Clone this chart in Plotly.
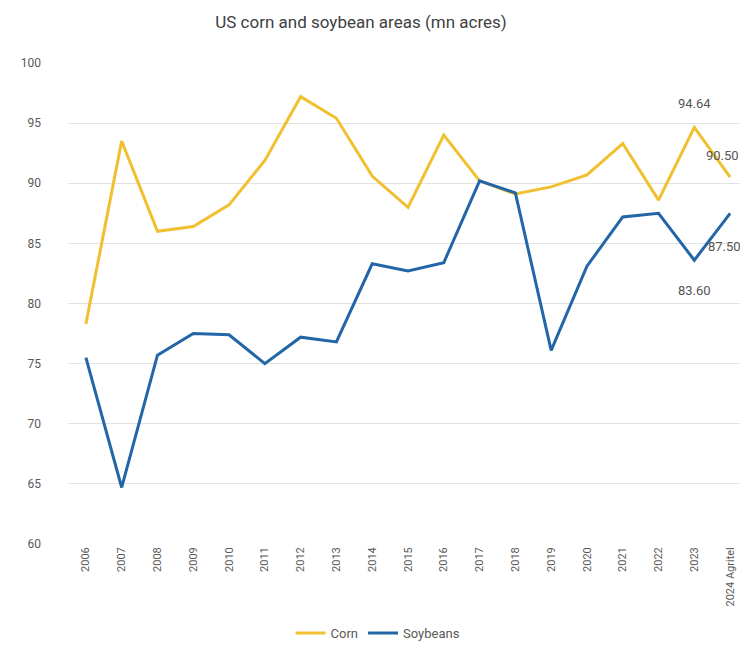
import plotly.graph_objects as go

years = ["2006", "2007", "2008", "2009", "2010", "2011", "2012", "2013", "2014",
         "2015", "2016", "2017", "2018", "2019", "2020", "2021", "2022", "2023",
         "2024 Agritel"]
corn = [78.3, 93.5, 86.0, 86.4, 88.2, 91.9, 97.2, 95.4, 90.6,
        88.0, 94.0, 90.2, 89.1, 89.7, 90.7, 93.3, 88.6, 94.64, 90.50]
soybeans = [75.5, 64.7, 75.7, 77.5, 77.4, 75.0, 77.2, 76.8, 83.3,
            82.7, 83.4, 90.2, 89.2, 76.1, 83.1, 87.2, 87.5, 83.60, 87.50]
labelled = ["2023", "2024 Agritel"]

font_family = "Roboto, Liberation Sans, sans-serif"

# the page body adds an 8px margin, so the figure is 8px smaller than the window
W, H = 740, 658

fig = go.Figure()
fig.add_trace(go.Scatter(
    x=years, y=corn, name="Corn", mode="lines",
    line=dict(color="#F0C030", width=3),
))
fig.add_trace(go.Scatter(
    x=years, y=soybeans, name="Soybeans", mode="lines",
    line=dict(color="#2366A8", width=3),
))

# value labels for the last two years: corn above the line, soybeans below
shifts = {
    ("corn", "2023"): (0, 24), ("corn", "2024 Agritel"): (-8, 22),
    ("soy", "2023"): (0, -30), ("soy", "2024 Agritel"): (-6, -33),
}
for key, values in (("corn", corn), ("soy", soybeans)):
    for y_label in labelled:
        i = years.index(y_label)  # category index, "2023" alone would be read as a number
        dx, dy = shifts[(key, y_label)]
        fig.add_annotation(
            x=i, y=values[i], text=f"{values[i]:.2f}", showarrow=False,
            xshift=dx, yshift=dy, font=dict(size=13, color="#555555"),
        )

fig.update_layout(
    width=W, height=H,
    margin=dict(l=60, r=0, t=55, b=122, autoexpand=False),
    paper_bgcolor="white", plot_bgcolor="white",
    font=dict(family=font_family, color="#595959"),
    title=dict(text="US corn and soybean areas (mn acres)", x=353 / W, xanchor="center",
               yref="container", y=1 - 14 / H, yanchor="middle", automargin=False,
               font=dict(size=17, color="#404040")),
    legend=dict(orientation="h", x=0.456, xanchor="center", y=-0.185, yanchor="middle",
                font=dict(size=13, color="#595959"), bgcolor="rgba(0,0,0,0)"),
    showlegend=True,
)
fig.update_xaxes(type="category", tickangle=-90, tickfont=dict(size=11),
                 showgrid=False, showline=False, ticks="", range=[-0.5, 18.5],
                 automargin=False)
fig.update_yaxes(range=[60, 100], dtick=5, tickfont=dict(size=12),
                 showgrid=True, gridcolor="#E3E3E3", gridwidth=1,
                 zeroline=False, showline=False, ticklabelstandoff=26,
                 automargin=False)

fig.write_html("out.html")
